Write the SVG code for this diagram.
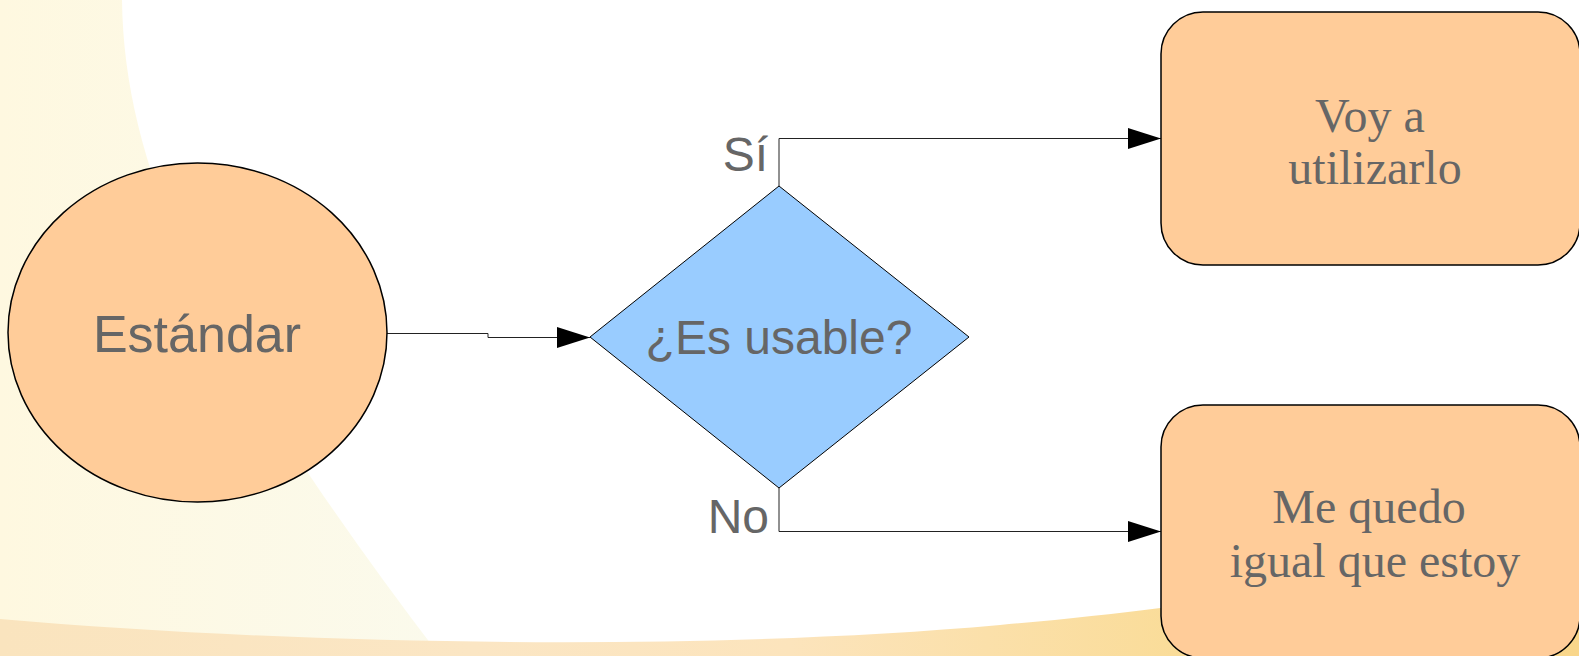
<svg xmlns="http://www.w3.org/2000/svg" width="1579" height="656" viewBox="0 0 1579 656">
<defs>
<linearGradient id="bandGrad" x1="0" y1="0" x2="1" y2="0">
<stop offset="0" stop-color="#FAE4BE"/>
<stop offset="0.3" stop-color="#FBE6C4"/>
<stop offset="0.5" stop-color="#FCE4BC"/>
<stop offset="0.75" stop-color="#FADC98"/>
<stop offset="1" stop-color="#F9D68A"/>
</linearGradient>
<linearGradient id="creamGrad" x1="0" y1="0" x2="1" y2="0">
<stop offset="0" stop-color="#FEF8E0"/>
<stop offset="1" stop-color="#FBFAEC"/>
</linearGradient>
<marker id="arrow" markerUnits="userSpaceOnUse" markerWidth="34" markerHeight="22" refX="33" refY="10.5" orient="auto">
<path d="M0,0 L33,10.5 L0,21 Z" fill="#000"/>
</marker>
</defs>
<style>
.shape{fill:#FFCC99;stroke:#000;stroke-width:1.5}
.dia{fill:#99CCFF;stroke:#000;stroke-width:1}
.conn{fill:none;stroke:#222;stroke-width:1}
.sans{font-family:"Liberation Sans",Arial,sans-serif;fill:#666666}
.serif{font-family:"Liberation Serif","Times New Roman",serif;fill:#666666;font-size:48px;text-anchor:middle}
</style>
<rect width="1579" height="656" fill="#FFFFFF"/>
<path d="M0,0 L122,0 C124,190 230,380 440,656 L0,656 Z" fill="url(#creamGrad)"/>
<path d="M0,619 C300,645 700,652 1000,625 S1400,565 1579,535 L1579,656 L0,656 Z" fill="url(#bandGrad)"/>
<g id="connectors">
<path class="conn" d="M386,333.5 H488 V337.5 H590" marker-end="url(#arrow)"/>
<path class="conn" d="M779,186 V138.5 H1161" marker-end="url(#arrow)"/>
<path class="conn" d="M779,488 V531.5 H1161" marker-end="url(#arrow)"/>
</g>
<g id="estandar">
<ellipse class="shape" cx="197.5" cy="332.5" rx="189.5" ry="169.5"/>
<text class="sans" x="197" y="352" font-size="52" text-anchor="middle">Estándar</text>
</g>
<g id="usable">
<polygon class="dia" points="590,337 779,186 969,337 779,488"/>
<text class="sans" x="779" y="354" font-size="48" text-anchor="middle">¿Es usable?</text>
</g>
<g id="label-si">
<text class="sans" x="768" y="171" font-size="48" text-anchor="end">Sí</text>
</g>
<g id="label-no">
<text class="sans" x="769" y="533" font-size="48" text-anchor="end">No</text>
</g>
<g id="utilizar">
<rect class="shape" x="1161" y="12" width="419" height="253" rx="42" ry="42"/>
<text class="serif" x="1370" y="132">Voy a</text>
<text class="serif" x="1375" y="184">utilizarlo</text>
</g>
<g id="igual">
<rect class="shape" x="1161" y="405" width="419" height="253" rx="42" ry="42"/>
<text class="serif" x="1369" y="523">Me quedo</text>
<text class="serif" x="1375" y="577">igual que estoy</text>
</g>
</svg>
